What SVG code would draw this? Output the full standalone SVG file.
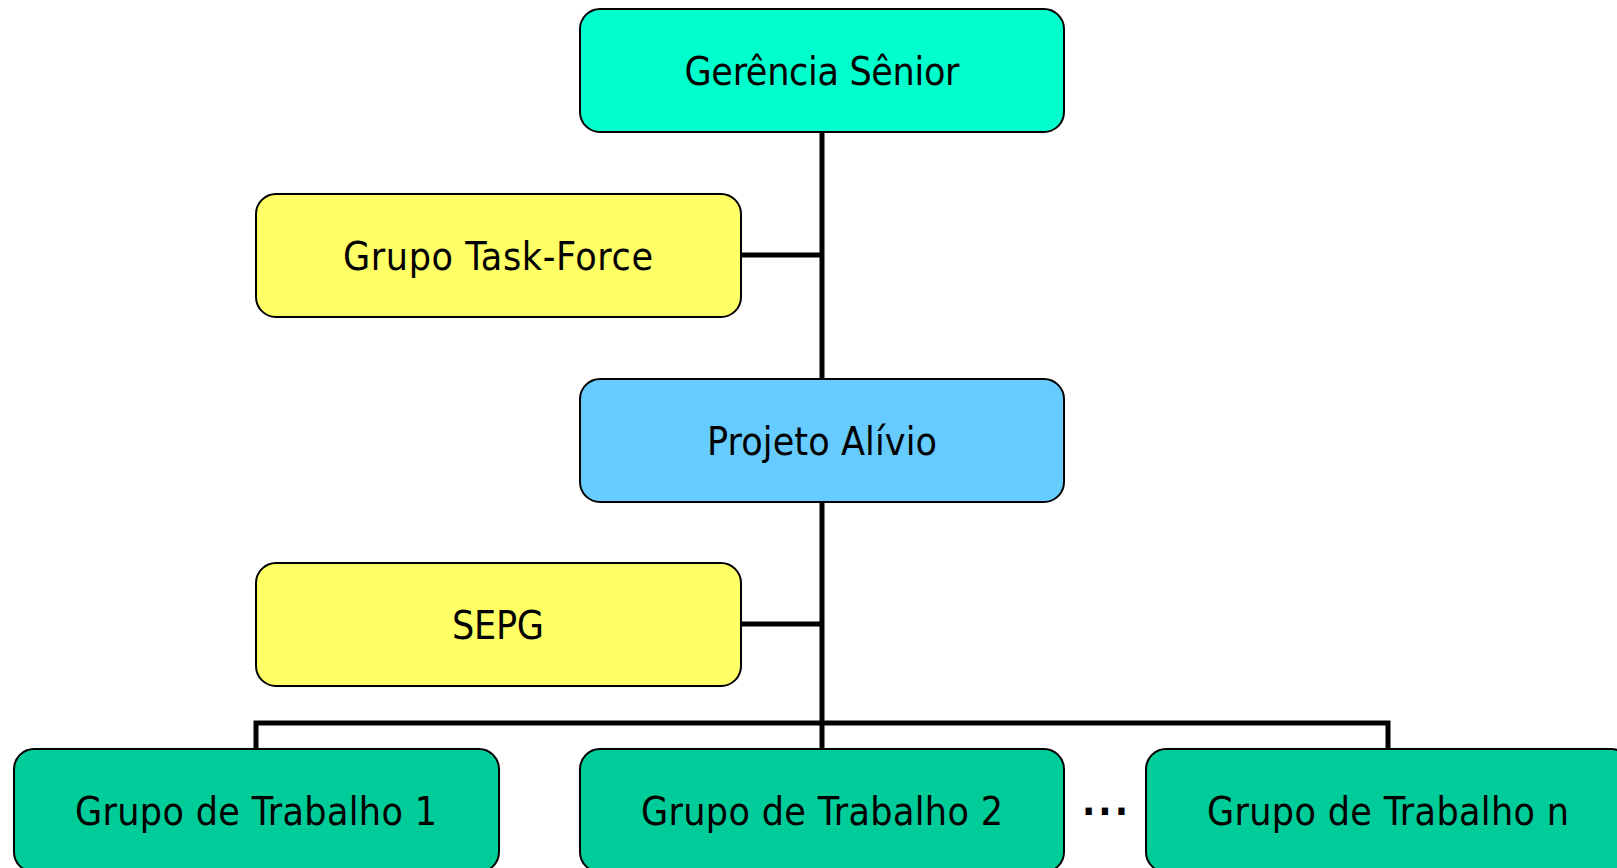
<svg xmlns="http://www.w3.org/2000/svg" width="1617" height="868" viewBox="0 0 1617 868">
<style>
.box{stroke:#000;stroke-width:2}
.lbl{font-family:"DejaVu Sans Condensed","DejaVu Sans",sans-serif;font-size:39px;fill:#000;text-anchor:middle}
.ln{stroke:#000;stroke-width:5;fill:none}
</style>
<rect width="1617" height="868" fill="#fff"/>
<g id="connectors">
<path class="ln" d="M822 132V749"/>
<path class="ln" d="M741 255H822"/>
<path class="ln" d="M741 624H822"/>
<path class="ln" d="M256 749V723H1388V749"/>
</g>
<g id="gerencia">
<rect class="box" x="580" y="9" width="484" height="123" rx="20" fill="#00FFCC"/>
<text class="lbl" x="822" y="85" textLength="275">Gerência Sênior</text>
</g>
<g id="taskforce">
<rect class="box" x="256" y="194" width="485" height="123" rx="20" fill="#FFFF66"/>
<text class="lbl" x="498" y="270" textLength="310">Grupo Task-Force</text>
</g>
<g id="projeto">
<rect class="box" x="580" y="379" width="484" height="123" rx="20" fill="#66CCFF"/>
<text class="lbl" x="822" y="455" textLength="230">Projeto Alívio</text>
</g>
<g id="sepg">
<rect class="box" x="256" y="563" width="485" height="123" rx="20" fill="#FFFF66"/>
<text class="lbl" x="498" y="639" textLength="92">SEPG</text>
</g>
<g id="gt1">
<rect class="box" x="14" y="749" width="485" height="123" rx="20" fill="#00CC99"/>
<text class="lbl" x="256" y="825" textLength="362">Grupo de Trabalho 1</text>
</g>
<g id="gt2">
<rect class="box" x="580" y="749" width="484" height="123" rx="20" fill="#00CC99"/>
<text class="lbl" x="822" y="825" textLength="362">Grupo de Trabalho 2</text>
</g>
<g id="ellipsis">
<text class="lbl" x="1105" y="825" textLength="46" font-weight="bold">· · ·</text>
</g>
<g id="gtn">
<rect class="box" x="1146" y="749" width="485" height="123" rx="20" fill="#00CC99"/>
<text class="lbl" x="1388" y="825" textLength="362">Grupo de Trabalho n</text>
</g>
</svg>
